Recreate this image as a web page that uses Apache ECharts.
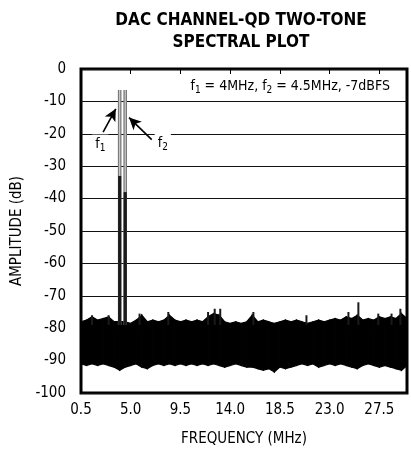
<!DOCTYPE html>
<html>
<head>
<meta charset="utf-8">
<script src="https://cdn.jsdelivr.net/npm/echarts@6/dist/echarts.min.js"></script>
<style>
  html, body { margin: 0; padding: 0; background: #fff; }
  #chart { width: 411px; height: 456px; }
</style>
</head>
<body>
<div id="chart"></div>
<script>
// Plancher de bruit (enveloppes haute et basse, en dB)
const noiseFreq = [0.5, 1.0, 1.5, 2.0, 2.5, 3.0, 3.5, 4.0, 4.5, 5.0, 5.5, 6.0, 6.5, 7.0, 7.5, 8.0, 8.5, 9.0, 9.5, 10.0,
  10.5, 11.0, 11.5, 12.0, 12.5, 13.0, 13.5, 14.0, 14.5, 15.0, 15.5, 16.0, 16.5, 17.0, 17.5, 18.0, 18.5, 19.0, 19.5, 20.0,
  20.5, 21.0, 21.5, 22.0, 22.5, 23.0, 23.5, 24.0, 24.5, 25.0, 25.5, 26.0, 26.5, 27.0, 27.5, 28.0, 28.5, 29.0, 29.5, 30.0];
const noiseTop = [-78, -77.5, -76.5, -77.5, -77, -76.5, -78, -78, -78, -78.5, -77.5, -76, -78, -77.5, -78, -77.5, -76, -77.5, -78, -77.5,
  -78, -77.5, -78, -76.5, -75.5, -76, -78, -78.5, -78, -78.5, -78, -76, -78, -77.5, -78, -78.5, -78, -77.5, -78, -77.5,
  -78, -78.5, -78, -77.5, -78, -77.5, -77, -77.5, -76.5, -77, -76, -77.5, -77, -77.5, -76.5, -77, -76.5, -77, -75.5, -77];
const noiseBottom = [-91, -91.5, -91, -91.5, -91, -91.5, -92, -93, -92, -91.5, -91, -92, -92.5, -91.5, -91, -91.5, -91, -91.5, -91, -91.5,
  -91, -91.5, -91, -91.5, -91, -91.5, -92, -91.5, -91, -91.5, -92, -92, -92.5, -93, -92.5, -93.5, -92, -92.5, -92, -91.5,
  -91, -91.5, -91, -92, -91.5, -91, -91.5, -91, -91.5, -92, -92.5, -91.5, -91, -91.5, -92, -91.5, -92, -92.5, -93, -91.5];

// Pics isolés au-dessus du plancher
const spikeFreq = [1.5, 3.0, 5.8, 8.4, 12.0, 12.6, 13.1, 16.1, 20.9, 24.7, 25.6, 27.4, 28.6, 29.4];
const spikeTop = [-76, -76, -75.5, -75, -75, -74, -74, -75, -76, -75, -72, -75.5, -75.5, -74];

// Les deux tons (f1, f2)
const toneFreq = [4.0, 4.5];
const toneLevel = [-6.5, -6.5];
const toneSkirt = [-33, -38];

const yTicks = [0, -10, -20, -30, -40, -50, -60, -70, -80, -90, -100];
const xTicks = [0.5, 5.0, 9.5, 14.0, 18.5, 23.0, 27.5];

const FONT = "'Liberation Sans Narrow', 'DejaVu Sans Condensed', Roboto, sans-serif";
const FLOOR = -79;

// Segments du plancher : chaque élément relie un point au suivant
const bandData = noiseFreq.slice(0, -1).map((f, i) => [
    f, noiseTop[i], noiseBottom[i], noiseFreq[i + 1], noiseTop[i + 1], noiseBottom[i + 1]
]);
const spikeData = spikeFreq.map((f, i) => [f, spikeTop[i]]);
const toneData = toneFreq.map((f, i) => [f, toneLevel[i], toneSkirt[i]]);

const subRich = {
    n: { fontFamily: FONT, fontSize: 14, color: '#000', lineHeight: 18 },
    s: { fontFamily: FONT, fontSize: 10, color: '#000', lineHeight: 10, verticalAlign: 'bottom' }
};

function rectBetween(api, f, y1, y2, w, color) {
    const p1 = api.coord([f, y1]);
    const p2 = api.coord([f, y2]);
    return {
        type: 'rect',
        shape: { x: p1[0] - w / 2, y: p1[1], width: w, height: p2[1] - p1[1] },
        style: { fill: color }
    };
}

const chart = echarts.init(document.getElementById('chart'));

chart.setOption({
    animation: false,
    grid: {
        left: 81, right: 4, top: 69, bottom: 63,
        show: true, borderColor: '#000', borderWidth: 3, backgroundColor: 'transparent'
    },
    graphic: [
        {
            type: 'text', x: 241, y: 10, z: 10,
            style: {
                text: 'DAC CHANNEL-QD TWO-TONE\nSPECTRAL PLOT',
                fontFamily: FONT, fontWeight: 'bold', fontSize: 17, lineHeight: 22,
                fill: '#000', align: 'center', verticalAlign: 'top'
            }
        },
        {
            type: 'text', right: 21, top: 79, z: 10,
            style: {
                text: '{n|f}{s|1}{n| = 4MHz, f}{s|2}{n| = 4.5MHz, -7dBFS}',
                rich: subRich
            }
        }
    ],
    xAxis: {
        type: 'value',
        min: 0.5, max: 30, interval: 4.5,
        name: 'FREQUENCY (MHz)', nameLocation: 'middle', nameGap: 39,
        nameTextStyle: { fontFamily: FONT, fontSize: 15, color: '#000' },
        axisLine: { show: false },
        axisTick: { show: true, length: 5, lineStyle: { color: '#000', width: 1 } },
        axisLabel: {
            fontFamily: FONT, fontSize: 15, color: '#000', margin: 10,
            showMaxLabel: false,
            formatter: v => v.toFixed(1)
        },
        splitLine: { show: false }
    },
    yAxis: {
        type: 'value',
        min: -100, max: 0, interval: 10,
        name: 'AMPLITUDE (dB)', nameLocation: 'middle', nameGap: 55,
        nameTextStyle: { fontFamily: FONT, fontSize: 15, color: '#000' },
        axisLine: { show: false },
        axisTick: { show: false },
        axisLabel: { fontFamily: FONT, fontSize: 15, color: '#000', margin: 15 },
        splitLine: { show: true, lineStyle: { color: '#111', width: 1 } }
    },
    series: [
        {
            name: 'noise', type: 'custom', data: bandData, silent: true,
            renderItem: (params, api) => {
                const a = api.coord([api.value(0), api.value(1)]);
                const b = api.coord([api.value(3), api.value(4)]);
                const c = api.coord([api.value(3), api.value(5)]);
                const d = api.coord([api.value(0), api.value(2)]);
                return {
                    type: 'polygon',
                    shape: { points: [a, b, c, d] },
                    style: { fill: '#000', stroke: '#000', lineWidth: 1.2 }
                };
            }
        },
        {
            name: 'spikes', type: 'custom', data: spikeData, silent: true,
            renderItem: (params, api) => rectBetween(api, api.value(0), api.value(1), FLOOR, 2, '#1a1a1a')
        },
        {
            name: 'tones', type: 'custom', data: toneData, silent: true, z: 3,
            renderItem: (params, api) => {
                const f = api.value(0);
                return {
                    type: 'group',
                    children: [
                        rectBetween(api, f, api.value(1), FLOOR, 3.6, '#7a7a7a'),
                        rectBetween(api, f, api.value(1), api.value(2), 1, '#d8d8d8'),
                        rectBetween(api, f, api.value(2), FLOOR, 3.2, '#1a1a1a')
                    ]
                };
            },
            markLine: {
                silent: true,
                symbol: ['none', 'arrow'],
                symbolSize: [9, 12],
                label: { show: false },
                lineStyle: { color: '#000', width: 1.6, type: 'solid' },
                data: [
                    [{ coord: [2.5, -19.5] }, { coord: [3.65, -12.3] }],
                    [{ coord: [6.9, -21.8] }, { coord: [4.85, -15.0] }]
                ]
            },
            markPoint: {
                silent: true,
                symbol: 'rect', symbolSize: 1,
                itemStyle: { color: 'transparent' },
                label: {
                    show: true, position: 'inside',
                    backgroundColor: '#fff', padding: [1, 3, 2, 3],
                    rich: subRich
                },
                data: [
                    { coord: [2.25, -23.5], label: { formatter: '{n|f}{s|1}' } },
                    { coord: [7.9, -23.0], label: { formatter: '{n|f}{s|2}' } }
                ]
            }
        }
    ]
});

window.addEventListener('resize', () => chart.resize());
</script>
</body>
</html>
